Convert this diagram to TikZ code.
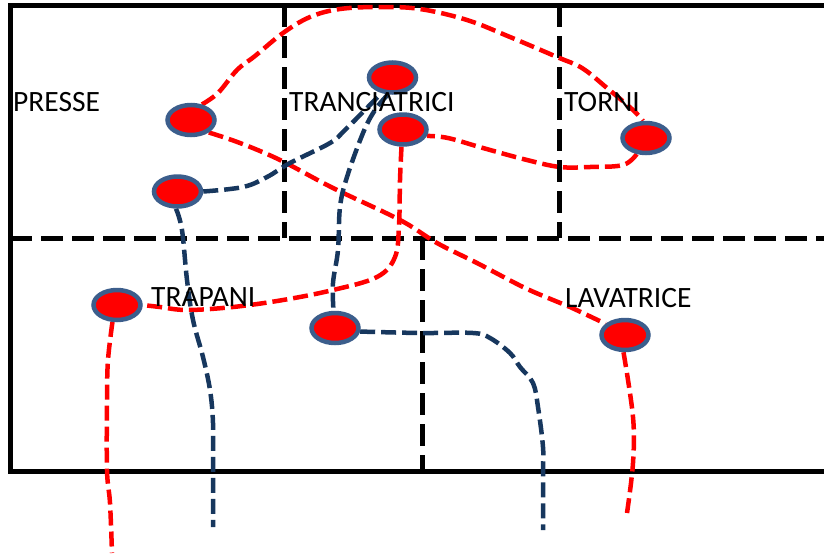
\documentclass[tikz,border=0pt]{standalone}
\usepackage{fontspec}
\setmainfont{Carlito}
\usepackage{xcolor}
\usetikzlibrary{shapes.geometric, backgrounds}

\definecolor{rimblue}{RGB}{60,94,140}
\definecolor{navyline}{RGB}{23,55,94}

\tikzset{
    machine/.style={ellipse, draw=rimblue, fill=red, line width=4.5pt,
        minimum width=47pt, minimum height=30pt, inner sep=0pt},
    zone/.style={anchor=base west, inner sep=0pt, font=\fontsize{29.5}{31}\selectfont},
    wall/.style={line width=5pt, line join=miter},
    divider/.style={line width=5pt, dash pattern=on 22pt off 9pt},
    redpath/.style={red, line width=4.5pt, dash pattern=on 15pt off 6pt},
    bluepath/.style={navyline, line width=4.5pt, dash pattern=on 15pt off 6pt}
}

\begin{document}
\begin{tikzpicture}[x=1pt, y=-1pt]
        \useasboundingbox (0,0) rectangle (824,555);

        % Machines
        \node[machine] (pr) at (191,120) {};
        \node[machine] (n2) at (177.5,191.5) {};
        \node[machine] (n3) at (392.5,77.5) {};
        \node[machine] (n4) at (403,129.5) {};
        \node[machine] (tr) at (646,138) {};
        \node[machine] (tp) at (117,305) {};
        \node[machine] (n7) at (335,328) {};
        \node[machine] (lv) at (625,335) {};

        % Free ends below the plan
        \coordinate (endA) at (112,553);
        \coordinate (endB) at (213,527);
        \coordinate (endC) at (543,530);
        \coordinate (endD) at (627,513);

        % Zone labels
        \node[zone] (lpresse) at (13,111) {PRESSE};
        \node[zone] (ltrancia) at (289,111) {TRANCIATRICI};
        \node[zone] (ltorni) at (564,111) {TORNI};
        \node[zone] (ltrapani) at (151,306) {TRAPANI};
        \node[zone] (llava) at (565,307) {LAVATRICE};

        \begin{scope}[on background layer]
            % Walls
            \draw[wall] (824,5) -- (10,5) -- (10,471) -- (824,471);
            \draw[divider] (10,238) -- (824,238);
            \draw[divider] (284.5,5) -- (284.5,238);
            \draw[divider] (559,5) -- (559,238);
            \draw[divider] (422,238) -- (422,471);

            % Red flows
            \draw[redpath] plot[smooth, tension=0.6] coordinates {(pr.55) (218,93) (237,70)
                (255,56) (283,33) (310,17) (340,9) (380,7) (420,9) (467,20) (510,37)
                (557,57) (582,68) (607,88) (633,110) (tr.100)};
            \draw[redpath] plot[smooth, tension=0.6] coordinates {(tr.240) (623,165) (590,167)
                (560,167) (527,160) (483,148) (448,138) (n4.-15)};
            \draw[redpath] plot[smooth, tension=0.6] coordinates {(pr.-35) (240,143) (280,160)
                (333,188) (400,220) (437,243) (477,263) (523,287) (553,300) (570,307) (lv.150)};
            \draw[redpath] plot[smooth, tension=0.6] coordinates {(n4.265) (400,180) (399,225)
                (395,257) (377,277) (333,290) (283,300) (233,307) (187,310) (160,307) (tp.east)};
            \draw[redpath] plot[smooth, tension=0.6] coordinates {(tp.255) (108,360) (107,400)
                (107,470) (110,503) (endA)};
            \draw[redpath] plot[smooth, tension=0.6] coordinates {(lv.265) (633,417) (633,463) (endD)};

            % Blue flows
            \draw[bluepath] plot[smooth, tension=0.6] coordinates {(n2.east) (243,187) (267,177)
                (290,163) (330,143) (345,130) (n3.235)};
            \draw[bluepath] plot[smooth, tension=0.6] coordinates {(n3.255) (375,110) (363,133)
                (347,177) (340,207) (338,250) (333,283) (n7.95)};
            \draw[bluepath] plot[smooth, tension=0.6] coordinates {(n2.265) (182,230) (187,280)
                (193,320) (203,357) (210,390) (213,423) (213,470) (endB)};
            \draw[bluepath] plot[smooth, tension=0.6] coordinates {(n7.-8) (420,333) (473,333)
                (490,338) (510,353) (520,367) (533,383) (538,407) (543,447) (543,473) (endC)};
        \end{scope}
\end{tikzpicture}
\end{document}
